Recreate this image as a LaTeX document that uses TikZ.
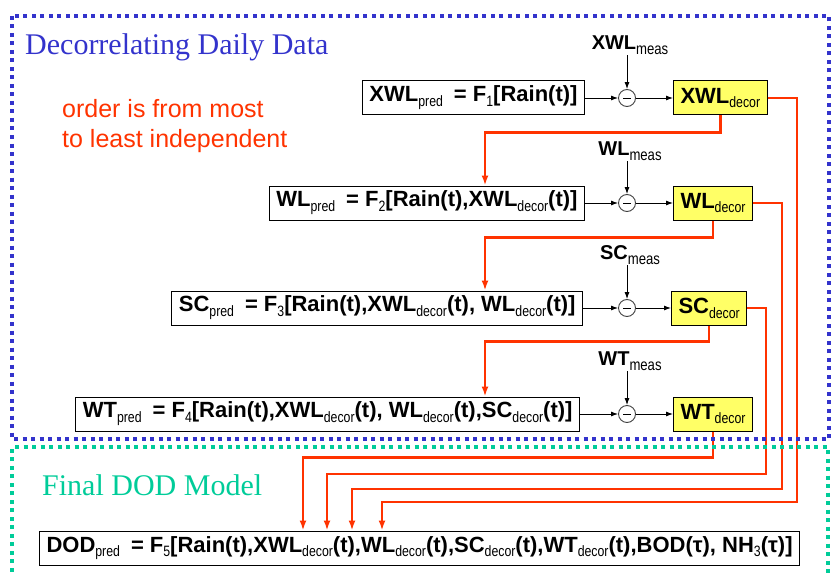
\documentclass[tikz,border=0pt]{standalone}
\usepackage{fontspec}
\setmainfont{Liberation Sans}
\newfontfamily\titlefont{Liberation Serif}
\newfontfamily\lofont[FakeStretch=0.82]{Liberation Sans}
\usetikzlibrary{arrows.meta}
\definecolor{areablue}{RGB}{51,51,204}
\definecolor{areagreen}{RGB}{0,204,153}
\definecolor{feedred}{RGB}{255,51,0}
\definecolor{decoryellow}{RGB}{255,255,102}
% lowered narrow index
\newcommand{\lo}[2][15]{\raisebox{-0.22em}{\lofont\mdseries\fontsize{#1}{#1}\selectfont #2}}

\begin{document}
\begin{tikzpicture}[x=1pt, y=-1pt,
    pred/.style={draw, line width=1pt, minimum height=34pt, inner xsep=7pt,
      anchor=east, font=\bfseries\fontsize{22}{22}\selectfont},
    decor/.style={draw, fill=decoryellow, line width=1pt, minimum height=34pt,
      inner xsep=7pt, anchor=west, font=\bfseries\fontsize{22}{22}\selectfont},
    diff/.style={circle, draw=black!75, line width=0.9pt, minimum size=17pt, inner sep=0pt},
    meas/.style={inner sep=1pt, font=\bfseries\fontsize{20}{20}\selectfont},
    sig/.style={-{Latex[length=7pt,width=5pt]}, line width=0.9pt},
    feed/.style={-{Latex[length=10pt,width=7pt]}, draw=feedred, line width=2.6pt},
    area/.style={line width=4pt, dash pattern=on 4pt off 4.5pt}]
  \useasboundingbox (0,0) rectangle (832,575);

  % headings
  \node[anchor=base west, inner sep=0pt, text=areablue, font=\titlefont\fontsize{30}{30}\selectfont]
    (title) at (25,55) {Decorrelating Daily Data};
  \node[anchor=base west, inner sep=0pt, text=feedred, font=\fontsize{25}{30}\selectfont, align=left]
    (order) at (62,147) {order is from most\\to least independent};
  \node[anchor=base west, inner sep=0pt, text=areagreen, font=\titlefont\fontsize{30}{30}\selectfont]
    (final) at (42,495) {Final DOD Model};

  % row 1
  \node[pred] (xwlp) at (585,98) {XWL\lo{pred}\enspace= F\lo{1}[Rain(t)]};
  \node[diff] (xwlm) at (627,98) {\rule{8pt}{0.8pt}};
  \node[decor] (xwld) at (673,98) {XWL\lo{decor}};
  \node[meas] (xwlmeas) at (630,45) {XWL\lo[16]{meas}};

  % row 2
  \node[pred] (wlp) at (585,203) {WL\lo{pred}\enspace= F\lo{2}[Rain(t),XWL\lo{decor}(t)]};
  \node[diff] (wlm) at (627,203) {\rule{8pt}{0.8pt}};
  \node[decor] (wld) at (673,203) {WL\lo{decor}};
  \node[meas] (wlmeas) at (630,151) {WL\lo[16]{meas}};

  % row 3
  \node[pred] (scp) at (583,308) {SC\lo{pred}\enspace= F\lo{3}[Rain(t),XWL\lo{decor}(t), WL\lo{decor}(t)]};
  \node[diff] (scm) at (627,308) {\rule{8pt}{0.8pt}};
  \node[decor] (scd) at (671,308) {SC\lo{decor}};
  \node[meas] (scmeas) at (630,255) {SC\lo[16]{meas}};

  % row 4
  \node[pred] (wtp) at (580,414) {WT\lo{pred}\enspace= F\lo{4}[Rain(t),XWL\lo{decor}(t), WL\lo{decor}(t),SC\lo{decor}(t)]};
  \node[diff] (wtm) at (627,414) {\rule{8pt}{0.8pt}};
  \node[decor] (wtd) at (673,414) {WT\lo{decor}};
  \node[meas] (wtmeas) at (630,361) {WT\lo[16]{meas}};

  % final model
  \node[pred, anchor=west] (dodp) at (39,548)
    {DOD\lo{pred}\enspace= F\lo{5}[Rain(t),XWL\lo{decor}(t),WL\lo{decor}(t),SC\lo{decor}(t),WT\lo{decor}(t),BOD(τ), NH\lo{3}(τ)]};

  \foreach \r in {xwl,wl,sc,wt} {
    \draw[sig] (\r p) -- (\r m);
    \draw[sig] (\r m) -- (\r d);
    \draw[sig] (\r meas.south -| \r m.north) -- (\r m.north);
  }

  % feeds down the chain
  \coordinate (xin) at (485,0);
  \draw[feed] (xwld.south) -- ++(0,17) -| (wlp.north -| xin);
  \draw[feed] (wld.south) -- ++(0,17) -| (scp.north -| xin);
  \draw[feed] (scd.south) -- ++(0,16) -| (wtp.north -| xin);

  % feeds into the final model
  \coordinate (d1) at (303,0);
  \coordinate (d2) at (327,0);
  \coordinate (d3) at (352,0);
  \coordinate (d4) at (382,0);
  \coordinate (scturn) at (766,474);
  \coordinate (wlturn) at (782,489);
  \coordinate (xwlturn) at (797,502);
  \draw[feed] (wtd.south) -- ++(0,26) -| (dodp.north -| d1);
  \draw[feed] (scd.east) -| (scturn) -| (dodp.north -| d2);
  \draw[feed] (wld.east) -| (wlturn) -| (dodp.north -| d3);
  \draw[feed] (xwld.east) -| (xwlturn) -| (dodp.north -| d4);

  % dotted areas
  \draw[area, draw=areablue] (12,16) rectangle (829,439);
  \draw[area, draw=areagreen] (12,580) -- (12,447) -- (828,447) -- (828,580);
\end{tikzpicture}
\end{document}
